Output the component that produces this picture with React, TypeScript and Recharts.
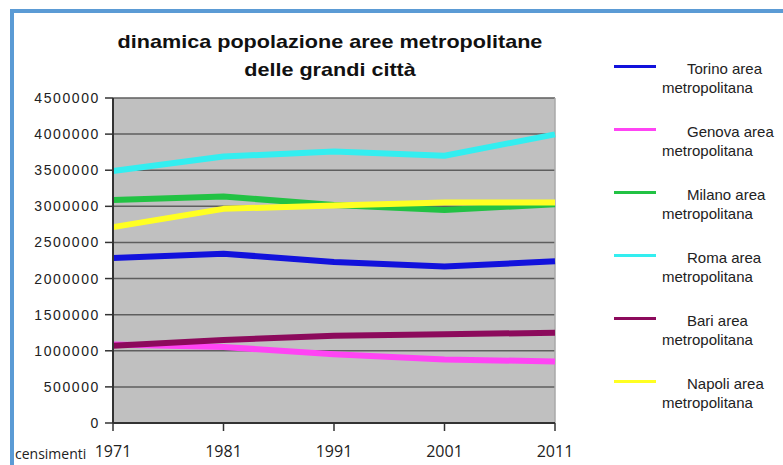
import { CartesianGrid, Line, LineChart, ReferenceLine, XAxis, YAxis } from "recharts";

// censimenti ISTAT, popolazione residente per area metropolitana
const years = ["1971", "1981", "1991", "2001", "2011"];
const torino = [2283000, 2344000, 2230000, 2166000, 2240000];
const genova = [1088000, 1052000, 953000, 880000, 852000];
const milano = [3088000, 3135000, 3020000, 2948000, 3030000];
const roma = [3490000, 3690000, 3758000, 3700000, 3997000];
const bari = [1068000, 1150000, 1208000, 1228000, 1250000];
const napoli = [2712000, 2965000, 3012000, 3052000, 3052000];

const yTicks = [0, 500000, 1000000, 1500000, 2000000, 2500000, 3000000, 3500000, 4000000, 4500000];

const series = [
  { key: "torino", city: "Torino", values: torino, color: "#1212dc" },
  { key: "genova", city: "Genova", values: genova, color: "#ff44f4" },
  { key: "milano", city: "Milano", values: milano, color: "#22c244" },
  { key: "roma", city: "Roma", values: roma, color: "#33eef0" },
  { key: "bari", city: "Bari", values: bari, color: "#8c0a5c" },
  { key: "napoli", city: "Napoli", values: napoli, color: "#ffff22" }
];

const data = years.map((year, i) => {
  const row: Record<string, string | number> = { year };
  series.forEach((s) => {
    row[s.key] = s.values[i];
  });
  return row;
});

const frameBlue = "#5b9bd5";

function CityLegend() {
  return (
    <div style={{ position: "absolute", left: 614, top: 58, fontFamily: "'Liberation Sans', Arial, sans-serif", fontSize: 15, color: "#222" }}>
      {series.map((s, i) => (
        <div key={s.key} style={{ position: "absolute", left: 0, top: i * 62.9, width: 170, height: 50 }}>
          <div style={{ position: "absolute", left: 0, top: 7, width: 42, height: 3, background: s.color }} />
          <div style={{ position: "absolute", left: 73, top: 2, whiteSpace: "nowrap", lineHeight: "18px" }}>{s.city} area</div>
          <div style={{ position: "absolute", left: 48, top: 21, whiteSpace: "nowrap", lineHeight: "18px" }}>metropolitana</div>
        </div>
      ))}
    </div>
  );
}

export default function App() {
  return (
    <div style={{ position: "relative", width: 783, height: 465, background: "#fff", overflow: "hidden" }}>
      <style>{"body{margin:0}"}</style>
      <div style={{ position: "absolute", left: 10, top: 9, width: 773, height: 4, background: frameBlue }} />
      <div style={{ position: "absolute", left: 10, top: 9, width: 4, height: 456, background: frameBlue }} />

      <svg width={783} height={465} style={{ position: "absolute", left: 0, top: 0 }}>
        <g transform="translate(330,0) scale(1.2,1)" fontFamily="'Liberation Sans', Arial, sans-serif" fontWeight="bold" fontSize={18} fill="#111" textAnchor="middle">
          <text x={0} y={48}>dinamica popolazione aree metropolitane</text>
          <text x={0} y={76}>delle grandi città</text>
        </g>
        <text x={15} y={459} fontFamily="'Open Sans', sans-serif" fontSize={14} fill="#222">censimenti</text>
      </svg>

      <div style={{ position: "absolute", left: 0, top: 0 }}>
        <LineChart width={783} height={465} data={data} margin={{ top: 98, right: 228, bottom: 0, left: 13 }}>
          <CartesianGrid vertical={false} stroke="#5e5e5e" strokeWidth={1.5} fill="#c0c0c0" fillOpacity={1} />
          <ReferenceLine x="2011" stroke="#a8a8a8" strokeWidth={1.5} />
          <XAxis
            dataKey="year"
            height={42}
            tickSize={8}
            tickMargin={15}
            stroke="#333"
            strokeWidth={2}
            tickLine={{ stroke: "#333", strokeWidth: 1.5 }}
            tick={{ fill: "#222", fontSize: 16, fontFamily: "'Open Sans', sans-serif" }}
            interval={0}
          />
          <YAxis
            width={100}
            domain={[0, 4500000]}
            ticks={yTicks}
            tickSize={8}
            tickMargin={5}
            stroke="#333"
            strokeWidth={2}
            tickLine={{ stroke: "#333", strokeWidth: 1.5 }}
            tick={{ fill: "#222", fontSize: 14, letterSpacing: 1.6, fontFamily: "'Liberation Sans', Arial, sans-serif" }}
            interval={0}
          />
          {series.map((s) => (
            <Line
              key={s.key}
              type="linear"
              dataKey={s.key}
              name={`${s.city} area metropolitana`}
              stroke={s.color}
              strokeWidth={6}
              strokeLinejoin="round"
              dot={false}
              activeDot={false}
              isAnimationActive={false}
            />
          ))}
        </LineChart>
      </div>

      <CityLegend />
    </div>
  );
}
